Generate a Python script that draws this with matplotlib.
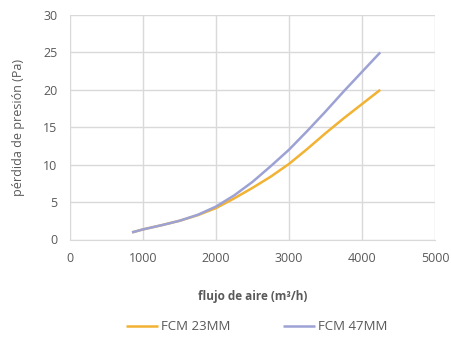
import matplotlib
matplotlib.use("Agg")
import matplotlib.pyplot as plt

flow = [850, 1000, 1250, 1500, 1750, 2000, 2250, 2500, 2750, 3000, 3250, 3500, 3750, 4000, 4250]
fcm23 = [0.95, 1.35, 1.9, 2.5, 3.25, 4.2, 5.5, 6.9, 8.4, 10.1, 12.1, 14.2, 16.2, 18.1, 20.0]
fcm47 = [0.95, 1.35, 1.9, 2.5, 3.3, 4.4, 5.9, 7.7, 9.8, 12.0, 14.5, 17.1, 19.8, 22.4, 25.0]
series_names = ["FCM 23MM", "FCM 47MM"]
xticks = [0, 1000, 2000, 3000, 4000, 5000]
yticks = [0, 5, 10, 15, 20, 25, 30]

plt.rcParams['font.family'] = ['Open Sans', 'DejaVu Sans']
gray = '#595959'

fig = plt.figure(figsize=(4.52, 3.38), dpi=100)
ax = fig.add_axes([70/452, 1-239.5/338, 365/452, 224.5/338])
ax.plot(flow, fcm23, color='#F2B233', lw=1.8, label=series_names[0], solid_capstyle='butt')
ax.plot(flow, fcm47, color='#9DA2D5', lw=1.8, label=series_names[1], solid_capstyle='butt')
ax.set_xlim(0, 5000)
ax.set_ylim(0, 30)
ax.set_xticks(xticks)
ax.set_yticks(yticks)
ax.grid(True, color='#D9D9D9', lw=1)
ax.set_axisbelow(True)
for s in ax.spines.values():
    s.set_visible(False)
ax.spines['bottom'].set_visible(True)
ax.spines['bottom'].set_color('#D9D9D9')
ax.tick_params(length=0, labelsize=9, colors=gray, pad=9)
ax.set_xlabel('flujo de aire (m³/h)', fontsize=8.5, color=gray, fontweight='bold', labelpad=18)
ax.set_ylabel('pérdida de presión (Pa)', fontsize=9, color=gray, labelpad=13)
fig.legend(loc='center', ncol=2, frameon=False, fontsize=9.5, labelcolor=gray,
           bbox_to_anchor=(0.568, 1-327/338), handlelength=2.4, columnspacing=4.0, handletextpad=0.25)
fig.savefig('out.png', dpi=100)
